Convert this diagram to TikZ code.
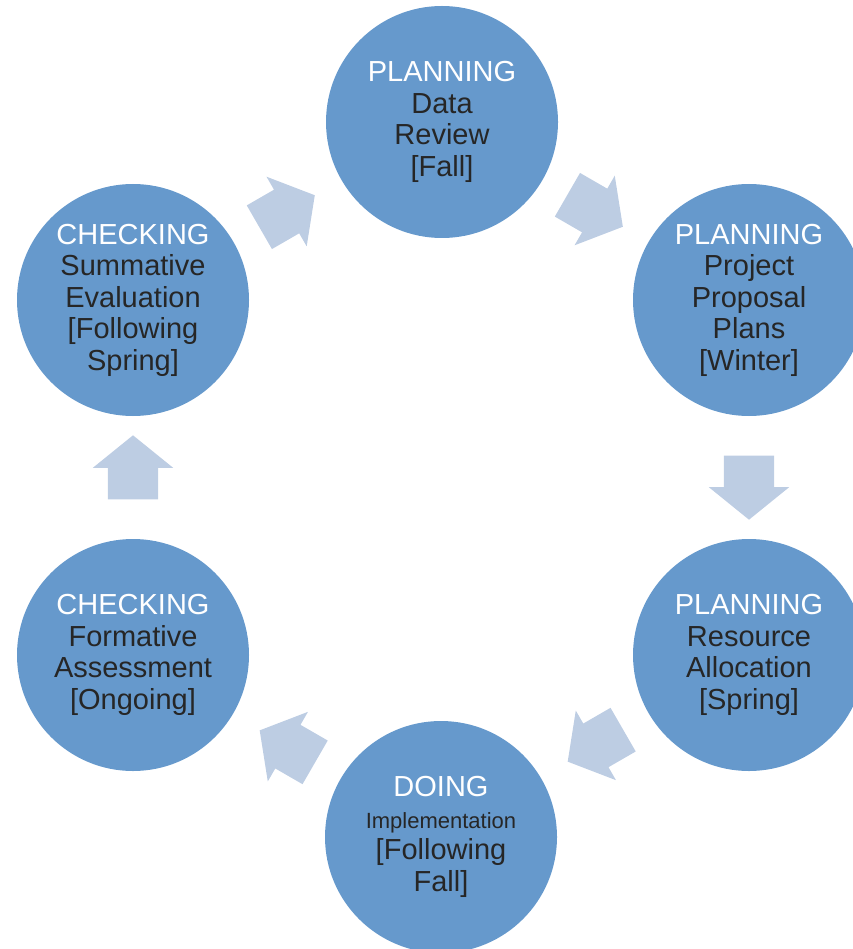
\documentclass[tikz,border=0pt]{standalone}
\usepackage{fontspec}
\setmainfont{Liberation Sans}
\usetikzlibrary{shapes.arrows,calc}

\definecolor{stagefill}{RGB}{102,153,204}
\definecolor{flowfill}{RGB}{189,205,227}
\definecolor{stagetext}{RGB}{38,38,38}

\begin{document}
\begin{tikzpicture}[x=1pt,y=-1pt,
    stage/.style={circle, fill=stagefill, minimum size=232pt, inner sep=0pt,
      text width=162pt, align=center, text=stagetext,
      font=\fontsize{29}{31.5}\selectfont},
    flow/.style={single arrow, fill=flowfill, inner sep=0pt, inner ysep=25pt,
      minimum height=64pt, single arrow head extend=15pt,
      single arrow tip angle=102}]
  \useasboundingbox (0,0) rectangle (852,949);

  % the six stages, clockwise from the top
  \node[stage] (review) at (442,122) {\textcolor{white}{PLANNING}\\Data\\Review\\{}[Fall]};
  \node[stage] (proposal) at (749,300) {\textcolor{white}{PLANNING}\\Project\\Proposal\\Plans\\{}[Winter]};
  \node[stage] (resource) at (749,655) {\textcolor{white}{PLANNING}\\Resource\\Allocation\\{}[Spring]};
  \node[stage] (implement) at (441,837) {\textcolor{white}{DOING}\\{\fontsize{22}{26}\selectfont Implementation}\\{}[Following\\Fall]};
  \node[stage] (formative) at (133,655) {\textcolor{white}{CHECKING}\\Formative\\Assessment\\{}[Ongoing]};
  \node[stage] (summative) at (133,300) {\textcolor{white}{CHECKING}\\Summative\\Evaluation\\{}[Following\\Spring]};

  % block arrows between the stages
  \node[flow, rotate=-30] (flowA) at ($(review)!0.47!(proposal)$) {};
  \node[flow, rotate=-90] (flowB) at ($(proposal)!0.5!(resource)$) {};
  \node[flow, rotate=-150] (flowC) at ($(resource)!0.47!(implement)$) {};
  \node[flow, rotate=150] (flowD) at ($(implement)!0.47!(formative)$) {};
  \node[flow, rotate=90] (flowE) at ($(formative)!0.5!(summative)$) {};
  \node[flow, rotate=30] (flowF) at ($(summative)!0.47!(review)$) {};
\end{tikzpicture}
\end{document}
